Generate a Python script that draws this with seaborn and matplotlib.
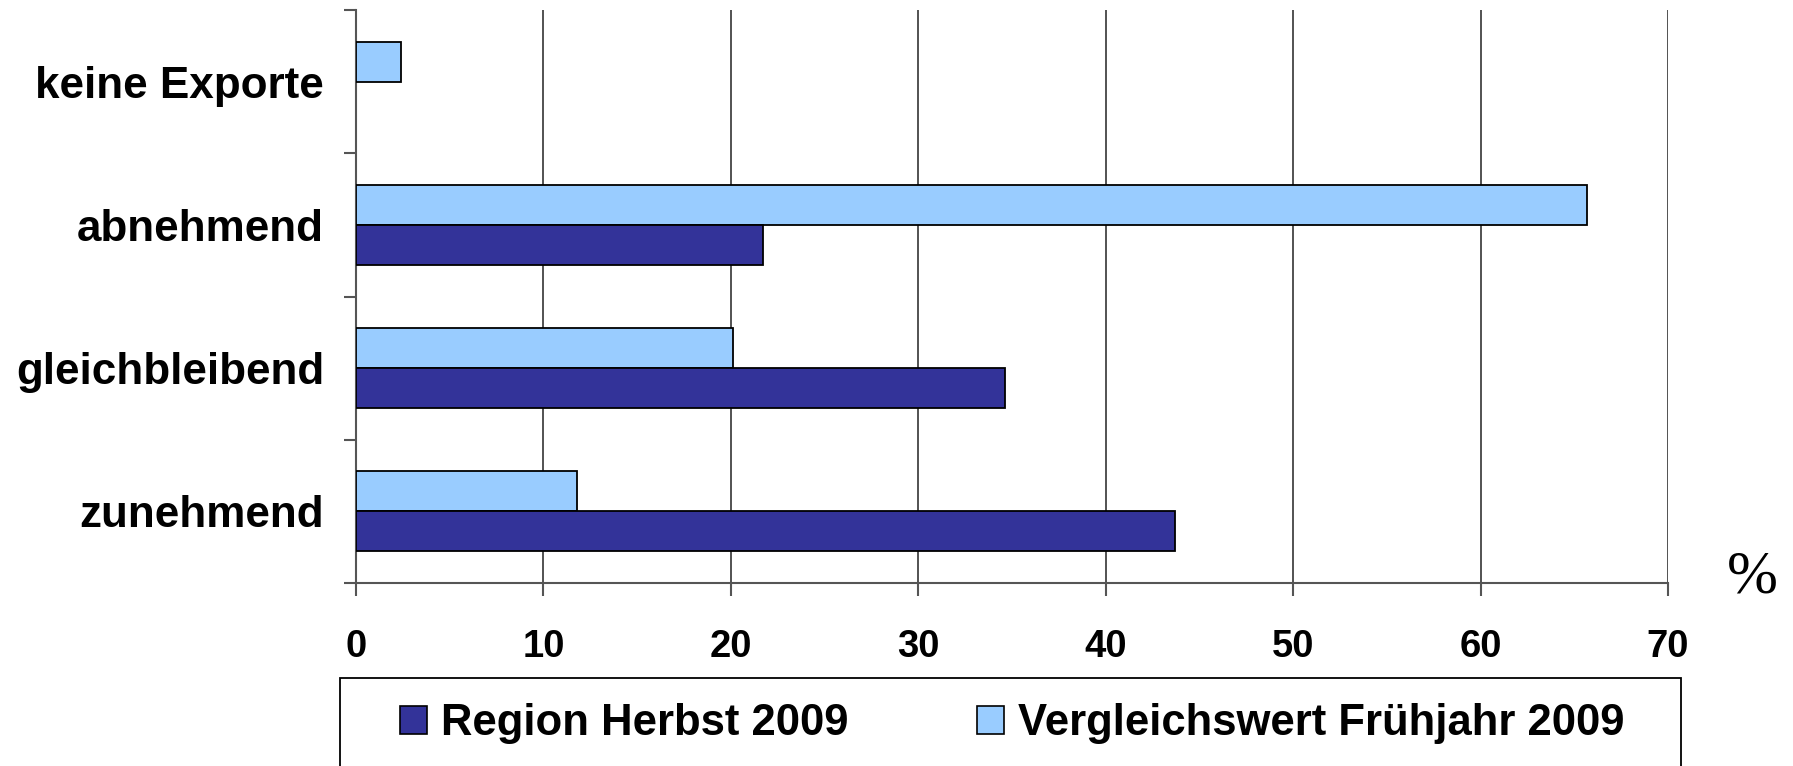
import numpy as np
import pandas as pd
import seaborn as sns
import matplotlib.pyplot as plt
from matplotlib.patches import Patch, Rectangle
from matplotlib.ticker import FixedLocator

kategorien = ["keine Exporte", "abnehmend", "gleichbleibend", "zunehmend"]
region_herbst = [0.0, 21.7, 34.6, 43.7]
vergleich_fruehjahr = [2.4, 65.7, 20.1, 11.8]
serien = ["Region Herbst 2009", "Vergleichswert Frühjahr 2009"]
farben = {"Region Herbst 2009": "#333399", "Vergleichswert Frühjahr 2009": "#99CCFF"}
x_ticks = [0, 10, 20, 30, 40, 50, 60, 70]

df = pd.DataFrame({
    "kategorie": kategorien * 2,
    "wert": region_herbst + vergleich_fruehjahr,
    "serie": [serien[0]] * 4 + [serien[1]] * 4,
})

sns.set_style("white")
plt.rcParams["font.family"] = ["Liberation Sans", "DejaVu Sans"]
plt.rcParams["font.weight"] = "bold"
plt.rcParams["text.color"] = "black"
plt.rcParams["xtick.labelcolor"] = "black"
plt.rcParams["ytick.labelcolor"] = "black"

fig = plt.figure(figsize=(17.93, 7.66), dpi=100)
ax = fig.add_axes([356 / 1793, 1 - 583 / 766, (1668 - 356) / 1793, (583 - 10) / 766])

sns.barplot(data=df, x="wert", y="kategorie", hue="serie",
            order=kategorien, hue_order=[serien[1], serien[0]],
            palette=farben, saturation=1, width=0.56, edgecolor="black", linewidth=1.3,
            legend=False, ax=ax, zorder=3)
# Balken mit Wert 0 nicht als Strich zeichnen
for p in ax.patches:
    if p.get_width() == 0:
        p.set_visible(False)

ax.set_xlim(0, 70)
ax.set_ylim(3.5, -0.5)
ax.set_xticks(x_ticks)
ax.set_xticklabels([str(t) for t in x_ticks], fontsize=27.5, fontweight="bold", color="black")
ax.set_yticks(range(len(kategorien)))
ax.set_yticklabels(kategorien, fontsize=31.7, fontweight="bold", color="black")
ax.yaxis.set_minor_locator(FixedLocator(np.arange(-0.5, 4.0, 1.0)))
ax.tick_params(axis="y", which="major", length=0, pad=23)
ax.tick_params(axis="y", which="minor", length=9, width=1.5, color="#555555", direction="out", left=True)
ax.tick_params(axis="x", which="major", length=9, width=1.5, color="#555555", direction="out", pad=24, bottom=True)
ax.set_xlabel("")
ax.set_ylabel("")

ax.xaxis.grid(True, color="#444444", linewidth=1.3)
ax.yaxis.grid(False)
ax.set_axisbelow(True)
for side in ["top", "right"]:
    ax.spines[side].set_visible(False)
for side in ["left", "bottom"]:
    ax.spines[side].set_color("#555555")
    ax.spines[side].set_linewidth(1.5)

# Prozentzeichen rechts unten und Stern oben rechts (im Original angeschnitten)
fig.text(1752 / 1793, 1 - 578 / 766, "%", fontsize=44, family="Liberation Serif",
         fontweight="normal", ha="center", va="center")
fig.text(1756 / 1793, 1 + 6 / 766, "*", fontsize=30, ha="center", va="center")

# Legendenrahmen reicht bis unter den Bildrand
fig.patches.append(Rectangle((340 / 1793, -0.05), (1681 - 340) / 1793, 0.05 + 1 - 678 / 766,
                             transform=fig.transFigure, fill=False, edgecolor="black",
                             linewidth=1.3))
handles = [Patch(facecolor=farben[s], edgecolor="black", linewidth=1.2) for s in serien]
fig.legend(handles, serien, loc="center", bbox_to_anchor=(1012 / 1793, 1 - 724 / 766),
           ncol=2, frameon=False, prop={"size": 31.4, "weight": "bold"},
           handlelength=0.62, handleheight=0.62, handletextpad=0.32, columnspacing=2.95)

fig.savefig("out.png", dpi=100)
